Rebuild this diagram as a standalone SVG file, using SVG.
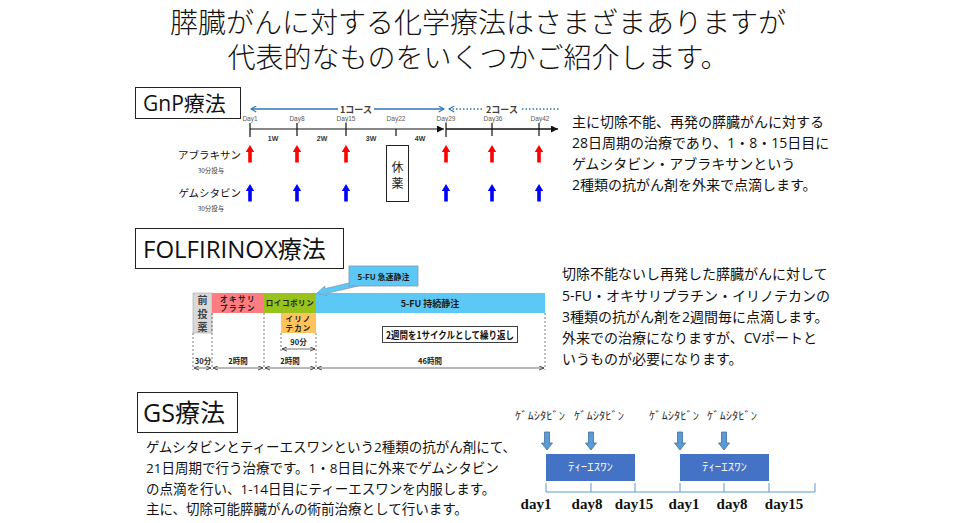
<svg xmlns="http://www.w3.org/2000/svg" width="960" height="523" viewBox="0 0 960 523">
<style>
.jp{font-family:"Open Sans","Noto Sans CJK JP",sans-serif;}
.cjk{font-family:"Noto Sans CJK JP",sans-serif;}
.ttl{font-size:28px;fill:#111;text-anchor:middle;font-weight:300;}
.body{font-size:14px;fill:#111;}
.hbox{fill:#fff;stroke:#222;stroke-width:1;}
.day{font-family:"Liberation Sans",sans-serif;font-size:6.5px;fill:#595959;text-anchor:middle;}
.wk{font-family:"Liberation Sans",sans-serif;font-size:7px;font-weight:bold;fill:#333;text-anchor:middle;}
.crs{font-size:9px;font-weight:bold;fill:#404040;text-anchor:middle;}
.sm{font-size:7.5px;font-weight:bold;fill:#222;text-anchor:middle;}
.dash{stroke:#404040;stroke-width:0.7;stroke-dasharray:2 2;fill:none;}
.dim{stroke:#333;stroke-width:0.7;fill:none;marker-start:url(#chev);marker-end:url(#chev);}
.gsd{font-family:"Liberation Serif",serif;font-size:15px;font-weight:bold;fill:#111;text-anchor:middle;}
.gsl{font-size:11px;fill:#333;text-anchor:middle;}
</style>
<defs>
<marker id="chev" viewBox="0 0 6 6" refX="6" refY="3" markerWidth="5" markerHeight="5" orient="auto-start-reverse" markerUnits="userSpaceOnUse"><path d="M0,0.5 L6,3 L0,5.5" fill="none" stroke="#333" stroke-width="1"/></marker>
<marker id="tri" viewBox="0 0 8 8" refX="8" refY="4" markerWidth="7" markerHeight="7" orient="auto" markerUnits="userSpaceOnUse"><path d="M0,0 L8,4 L0,8 Z" fill="#111"/></marker>
<marker id="bchev" viewBox="0 0 8 8" refX="7" refY="4" markerWidth="7" markerHeight="7" orient="auto-start-reverse" markerUnits="userSpaceOnUse"><path d="M1,0.5 L7,4 L1,7.5" fill="none" stroke="#2E75B6" stroke-width="1.3"/></marker>
<path id="up" d="M0,0 L4.2,7 L1.8,7 L1.8,17.5 L-1.8,17.5 L-1.8,7 L-4.2,7 Z"/>
<path id="dn" d="M-2.5,0 H2.5 V11 H5.5 L0,18 L-5.5,11 H-2.5 Z" fill="#5B9BD5" stroke="#41719C" stroke-width="0.8"/>
</defs>
<rect width="960" height="523" fill="#fff"/>

<g id="title" class="jp">
<text class="ttl" x="478" y="33">膵臓がんに対する化学療法はさまざまありますが</text>
<text class="ttl" x="478" y="68">代表的なものをいくつかご紹介します。</text>
</g>

<!-- GnP -->
<g id="gnp-title">
<rect class="hbox" x="135.5" y="87.5" width="105" height="31"/>
<text class="jp" x="143" y="111" font-size="21" fill="#111">GnP療法</text>
</g>
<g id="gnp-text" class="jp body">
<text x="572" y="127">主に切除不能、再発の膵臓がんに対する</text>
<text x="572" y="148">28日周期の治療であり、1・8・15日目に</text>
<text x="572" y="169">ゲムシタビン・アブラキサンという</text>
<text x="572" y="190">2種類の抗がん剤を外来で点滴します。</text>
</g>
<g id="gnp-chart">
<g id="gnp-labels" class="cjk">
<text x="241" y="159" font-size="10.5" fill="#111" text-anchor="end">アブラキサン</text>
<text x="211" y="173" font-size="6.5" fill="#404040" text-anchor="middle">30分投与</text>
<text x="241" y="197" font-size="10.5" fill="#111" text-anchor="end">ゲムシタビン</text>
<text x="211" y="211" font-size="6.5" fill="#404040" text-anchor="middle">30分投与</text>
</g>
<g id="gnp-days">
<text class="day" x="250" y="121">Day1</text>
<text class="day" x="297" y="121">Day8</text>
<text class="day" x="346" y="121">Day15</text>
<text class="day" x="396" y="121">Day22</text>
<text class="day" x="446" y="121">Day29</text>
<text class="day" x="493" y="121">Day36</text>
<text class="day" x="540" y="121">Day42</text>
<text class="wk" x="273" y="141">1W</text>
<text class="wk" x="322" y="141">2W</text>
<text class="wk" x="371" y="141">3W</text>
<text class="wk" x="420" y="141">4W</text>
</g>
<g id="gnp-course" class="cjk">
<text class="crs" x="356" y="112.5">1コース</text>
<text class="crs" x="502" y="112.5">2コース</text>
</g>
<g id="kyuyaku">
<rect x="386.5" y="145.5" width="22" height="56" fill="#fff" stroke="#222" stroke-width="1"/>
<text class="cjk" x="397.5" y="172" font-size="12" fill="#222" text-anchor="middle">休</text>
<text class="cjk" x="397.5" y="188" font-size="12" fill="#222" text-anchor="middle">薬</text>
</g>
</g>

<!-- FOLFIRINOX -->
<g id="folf-title">
<rect class="hbox" x="135.5" y="228.5" width="208" height="40"/>
<text class="jp" x="143" y="257.5" font-size="24" fill="#111">FOLFIRINOX療法</text>
</g>
<g id="folf-text" class="jp body">
<text x="562" y="279">切除不能ないし再発した膵臓がんに対して</text>
<text x="562" y="301">5-FU・オキサリプラチン・イリノテカンの</text>
<text x="562" y="322">3種類の抗がん剤を2週間毎に点滴します。</text>
<text x="562" y="343">外来での治療になりますが、CVポートと</text>
<text x="562" y="364">いうものが必要になります。</text>
</g>
<g id="folf-chart" class="cjk">
<g id="pre">
<rect x="193" y="293" width="19" height="40" fill="#D9D9D9" stroke="#A6A6A6" stroke-width="0.6"/>
<text x="202.5" y="304" font-size="10" font-weight="bold" fill="#404040" text-anchor="middle">前</text>
<text x="202.5" y="317.5" font-size="10" font-weight="bold" fill="#404040" text-anchor="middle">投</text>
<text x="202.5" y="331" font-size="10" font-weight="bold" fill="#404040" text-anchor="middle">薬</text>
</g>
<g id="oxali">
<rect x="212" y="293" width="52" height="20" fill="#FF7C80"/>
<text class="sm" x="238" y="301.5" letter-spacing="1.5">オキサリ</text>
<text class="sm" x="238" y="311" letter-spacing="1.5">プラチン</text>
</g>
<g id="leuco">
<rect x="264" y="293" width="52" height="20" fill="#99C21C"/>
<text class="sm" x="290" y="306" letter-spacing="0.6">ロイコボリン</text>
</g>
<g id="irino">
<rect x="281" y="313" width="35" height="20" fill="#FFC35B"/>
<text class="sm" x="298.5" y="321.5" letter-spacing="1.2">イリノ</text>
<text class="sm" x="298.5" y="331" letter-spacing="1.2">テカン</text>
</g>
<g id="fu-cont">
<rect x="316" y="293" width="229" height="20" fill="#5BC8F5"/>
<text x="430" y="306.5" font-size="9" font-weight="bold" fill="#1a1a1a" text-anchor="middle">5-FU 持続静注</text>
</g>
<g id="fu-bolus">
<polygon points="317,293 324.7,286.1 325.2,288.6 359.4,280.6 360.6,285.4 326.4,293.4 326.9,295.9" fill="#5BC8F5" stroke="#8497B0" stroke-width="0.7"/>
<rect x="349" y="266" width="69" height="20" fill="#5BC8F5" stroke="#8497B0" stroke-width="0.8"/>
<text x="383.5" y="279.5" font-size="8" font-weight="bold" fill="#1a1a1a" text-anchor="middle">5-FU 急速静注</text>
</g>
<g id="cycle">
<rect x="382.5" y="326.5" width="135" height="16" fill="#fff" stroke="#404040" stroke-width="1"/>
<text x="450" y="338.5" font-size="10" font-weight="bold" fill="#111" text-anchor="middle" textLength="128" lengthAdjust="spacingAndGlyphs">2週間を1サイクルとして繰り返し</text>
</g>
<g id="durations">
<text class="sm" x="298.5" y="345">90分</text>
<text class="sm" x="203" y="364">30分</text>
<text class="sm" x="238" y="364">2時間</text>
<text class="sm" x="290" y="364">2時間</text>
<text class="sm" x="430" y="364">46時間</text>
</g>
</g>

<!-- GS -->
<g id="gs-title">
<rect class="hbox" x="137.5" y="392.5" width="100" height="40"/>
<text class="jp" x="143" y="422" font-size="25" fill="#111">GS療法</text>
</g>
<g id="gs-text" class="jp" font-size="13.5" fill="#111">
<text x="146" y="452">ゲムシタビンとティーエスワンという2種類の抗がん剤にて、</text>
<text x="146" y="473">21日周期で行う治療です。1・8日目に外来でゲムシタビン</text>
<text x="146" y="494">の点滴を行い、1-14日目にティーエスワンを内服します。</text>
<text x="146" y="514">主に、切除可能膵臓がんの術前治療として行います。</text>
</g>
<g id="gs-chart">
<g id="gs-labels" class="cjk">
<text class="gsl" x="540" y="420" textLength="50" lengthAdjust="spacingAndGlyphs">ｹﾞﾑｼﾀﾋﾞﾝ</text>
<text class="gsl" x="599" y="420" textLength="50" lengthAdjust="spacingAndGlyphs">ｹﾞﾑｼﾀﾋﾞﾝ</text>
<text class="gsl" x="674" y="420" textLength="50" lengthAdjust="spacingAndGlyphs">ｹﾞﾑｼﾀﾋﾞﾝ</text>
<text class="gsl" x="732" y="420" textLength="50" lengthAdjust="spacingAndGlyphs">ｹﾞﾑｼﾀﾋﾞﾝ</text>
</g>
<g id="ts1">
<rect x="546" y="454" width="89" height="27" fill="#4472C4"/>
<text class="cjk" x="590.5" y="471" font-size="11" fill="#fff" text-anchor="middle" textLength="45" lengthAdjust="spacingAndGlyphs">ﾃｨｰｴｽﾜﾝ</text>
</g>
<g id="ts2">
<rect x="680" y="454" width="89" height="27" fill="#4472C4"/>
<text class="cjk" x="724.5" y="471" font-size="11" fill="#fff" text-anchor="middle" textLength="45" lengthAdjust="spacingAndGlyphs">ﾃｨｰｴｽﾜﾝ</text>
</g>
<g id="gs-days">
<text class="gsd" x="536" y="509">day1</text>
<text class="gsd" x="587" y="509">day8</text>
<text class="gsd" x="634" y="509">day15</text>
<text class="gsd" x="684" y="509">day1</text>
<text class="gsd" x="732" y="509">day8</text>
<text class="gsd" x="784" y="509">day15</text>
</g>
</g>

<g id="connectors">
<g stroke="#2E75B6" stroke-width="1.3" fill="none">
<line x1="251" y1="109" x2="338" y2="109" marker-start="url(#bchev)"/>
<line x1="374" y1="109" x2="444" y2="109" marker-end="url(#bchev)"/>
<line x1="449" y1="109" x2="482" y2="109" stroke-dasharray="1.5 2" marker-start="url(#bchev)"/>
<line x1="522" y1="109" x2="560" y2="109" stroke-dasharray="1.5 2"/>
</g>
<g stroke="#111" fill="none">
<line x1="250" y1="129" x2="444" y2="129" stroke-width="1.2" marker-end="url(#tri)"/>
<line x1="446" y1="129" x2="558" y2="129" stroke-width="1.5" marker-end="url(#tri)"/>
<path d="M250,123V137M297,123V136M346,123V136M396,129V136M446,123V137M492,123V136M539,123V136" stroke-width="1.2"/>
</g>
<g fill="#FF0000">
<use href="#up" x="250" y="145"/><use href="#up" x="297" y="145"/><use href="#up" x="346" y="145"/>
<use href="#up" x="446" y="145"/><use href="#up" x="492" y="145"/><use href="#up" x="539" y="145"/>
</g>
<g fill="#0000FF">
<use href="#up" x="250" y="184"/><use href="#up" x="297" y="184"/><use href="#up" x="346" y="184"/>
<use href="#up" x="446" y="184"/><use href="#up" x="492" y="184"/><use href="#up" x="539" y="184"/>
</g>
<path class="dash" d="M193,333V370M212,313V370M264,313V370M281,333V352M316,333V370M545,313V370"/>
<line class="dim" x1="282" y1="349" x2="315" y2="349"/>
<line class="dim" x1="194" y1="368" x2="211" y2="368"/>
<line class="dim" x1="213" y1="368" x2="263" y2="368"/>
<line class="dim" x1="265" y1="368" x2="315" y2="368"/>
<line class="dim" x1="317" y1="368" x2="544" y2="368"/>
<use href="#dn" x="547" y="432"/><use href="#dn" x="591" y="432"/>
<use href="#dn" x="680" y="432"/><use href="#dn" x="724" y="432"/>
<g stroke="#5B9BD5" stroke-width="1" fill="none">
<line x1="546" y1="492" x2="815" y2="492"/>
<path d="M546,483V492M591,483V492M635,483V492M680,483V492M724,483V492M769,483V492M815,483V492"/>
</g>
</g>
</svg>
